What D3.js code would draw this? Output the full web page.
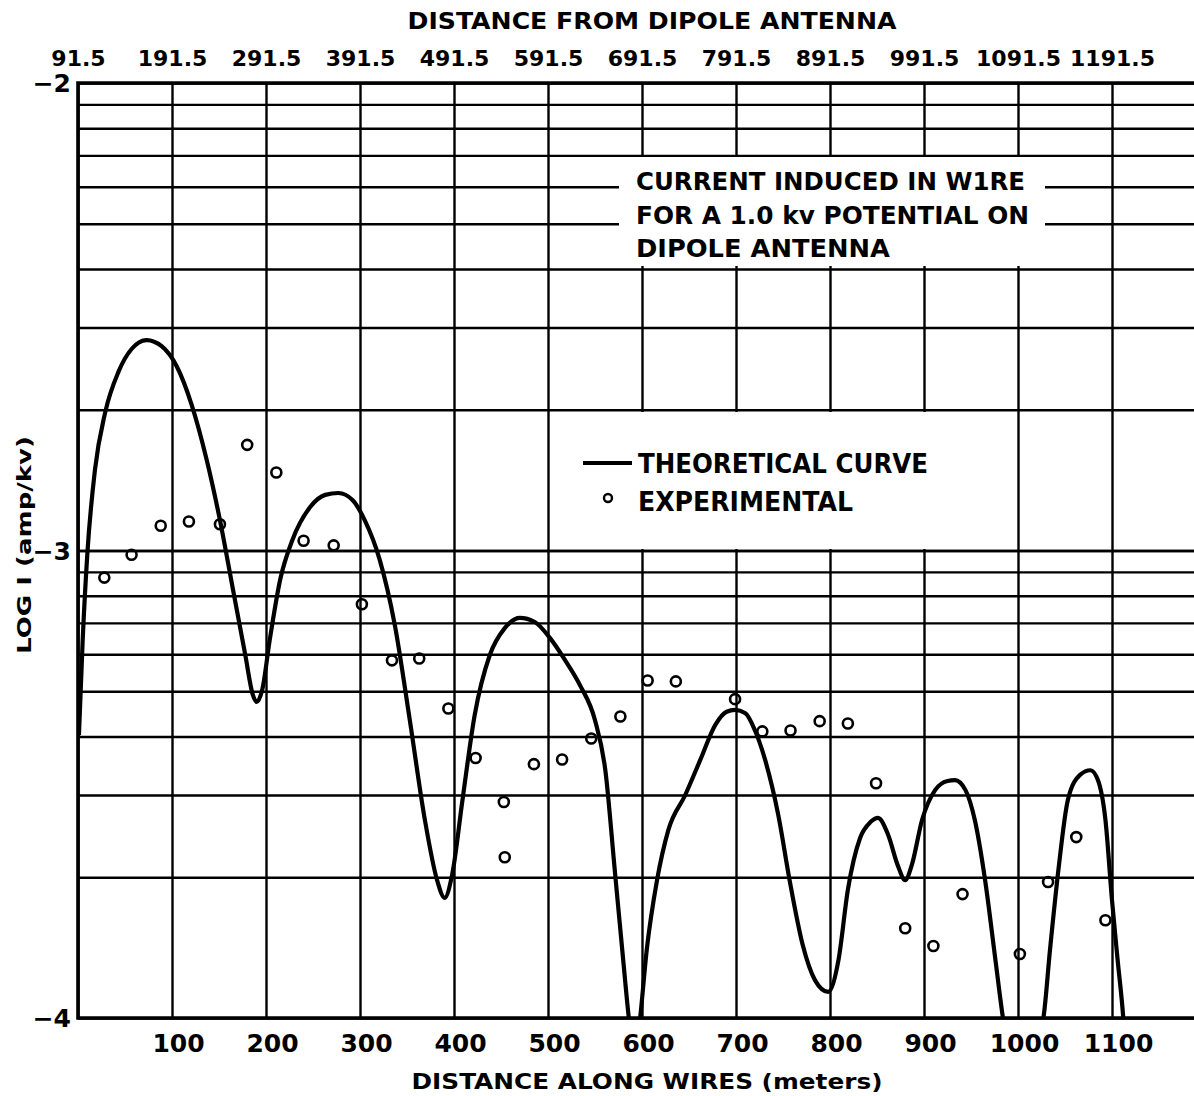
<!DOCTYPE html>
<html>
<head>
<meta charset="utf-8">
<script src="https://cdn.jsdelivr.net/npm/d3@7"></script>
<style>
  body { margin: 0; background: #fff; }
  svg { display: block; font-family: "DejaVu Sans", sans-serif; font-weight: bold; }
</style>
</head>
<body>
<div class="svg-container"></div>
<script>

// theoretical curve: distance along wires (m) and log I (amp/kv)
var theoryDist = [1, 5, 10, 18, 29, 43, 57, 73, 89, 105, 121, 137, 151, 164, 178, 186, 190, 196, 204, 215,
  228, 247, 263, 277, 292, 305, 321, 337, 353, 369, 382, 390, 398, 409, 422, 438, 454, 470, 486, 502,
  518, 534, 550, 561, 571, 580, 586, 592, 598, 605, 616, 628, 646, 662, 678, 690, 699, 710, 720, 731,
  745, 757, 771, 784, 798, 809, 819, 832, 843, 851, 862, 872, 880, 887, 898, 912, 925, 933, 944, 954,
  965, 976, 984, 1002, 1027, 1034, 1043, 1053, 1066, 1077, 1085, 1093, 1100, 1106, 1112, 1115];
var theoryLogI = [-3.395, -3.191, -3.005, -2.828, -2.704, -2.618, -2.569, -2.550, -2.563, -2.606, -2.689, -2.807, -2.935, -3.074, -3.224, -3.309, -3.324, -3.298, -3.191, -3.063,
  -2.978, -2.907, -2.881, -2.877, -2.892, -2.935, -3.020, -3.159, -3.363, -3.576, -3.705, -3.743, -3.694, -3.534, -3.352, -3.224, -3.166, -3.144, -3.153, -3.187,
  -3.234, -3.288, -3.363, -3.470, -3.683, -3.876, -4.000, -4.090, -4.000, -3.855, -3.705, -3.598, -3.523, -3.448, -3.373, -3.345, -3.341, -3.348, -3.384, -3.448,
  -3.566, -3.705, -3.844, -3.919, -3.944, -3.876, -3.726, -3.615, -3.581, -3.572, -3.609, -3.673, -3.705, -3.673, -3.576, -3.512, -3.493, -3.491, -3.512, -3.576,
  -3.705, -3.876, -4.000, -4.154, -4.000, -3.855, -3.683, -3.534, -3.480, -3.470, -3.491, -3.576, -3.748, -3.876, -4.000, -4.090];

// experimental points
var expDist = [28, 57, 88, 118, 151, 180, 211, 240, 272, 302, 334, 363, 394, 423, 453, 454, 485, 515, 546, 577,
  606, 636, 699, 728, 758, 789, 819, 849, 880, 910, 941, 1002, 1032, 1062, 1093];
var expLogI = [-3.058, -3.009, -2.947, -2.938, -2.944, -2.774, -2.833, -2.979, -2.989, -3.115, -3.235, -3.231, -3.338, -3.444, -3.538, -3.656, -3.457, -3.447, -3.402, -3.355,
  -3.278, -3.280, -3.318, -3.387, -3.385, -3.365, -3.370, -3.498, -3.808, -3.846, -3.735, -3.863, -3.709, -3.613, -3.791];

var gridDist = [0, 100, 200, 300, 400, 500, 600, 700, 800, 900, 1000, 1100];
var bottomTicks = [100, 200, 300, 400, 500, 600, 700, 800, 900, 1000, 1100];
var antennaOffset = 91.5;
var decades = [-4, -3];
var gridSteps = [1, 2, 3, 4, 5, 6, 7, 8, 9, 10];
var yLabels = [-2, -3, -4];

// plot box
var plotL = 78, plotR = 1194, plotT = 83, plotB = 1018;

var svg = d3.select(".svg-container").append("svg")
  .attr("width", 1194)
  .attr("height", 1096);

var x = d3.scaleLinear().domain([0, 1100]).range([plotL, 1112]);
var y = d3.scaleLinear().domain([-4, -2]).range([plotB, plotT]);

// log grid values
var gridLog = [];
decades.forEach(function (d) {
  gridSteps.forEach(function (k) { gridLog.push(d + Math.log10(k)); });
});

// vertical grid lines
var vgrid = svg.append("g")
  .attr("transform", "translate(0," + plotB + ")")
  .call(d3.axisBottom(x).tickValues(gridDist).tickSize(-(plotB - plotT)).tickFormat(""));
vgrid.select(".domain").remove();
vgrid.selectAll("line").attr("stroke", "#000").attr("stroke-width", 2.4);

// horizontal grid lines
var hgrid = svg.append("g")
  .attr("transform", "translate(" + plotL + ",0)")
  .call(d3.axisLeft(y).tickValues(gridLog).tickSize(-(plotR - plotL)).tickFormat(""));
hgrid.select(".domain").remove();
hgrid.selectAll("line").attr("stroke", "#000").attr("stroke-width", 2.4);

// white boxes behind the notes
svg.append("rect").attr("x", 619).attr("y", 157).attr("width", 426).attr("height", 109).attr("fill", "#fff");
svg.append("rect").attr("x", 550).attr("y", 412).attr("width", 465).attr("height", 137).attr("fill", "#fff");

// border
svg.append("path")
  .attr("d", "M" + plotR + "," + plotT + "H" + plotL + "V" + plotB + "H" + plotR)
  .attr("fill", "none").attr("stroke", "#000").attr("stroke-width", 3.6);

// clip for the curve
svg.append("clipPath").attr("id", "plotclip")
  .append("rect").attr("x", plotL).attr("y", plotT).attr("width", plotR - plotL).attr("height", plotB - plotT);

var theory = theoryDist.map(function (d, i) { return {dist: d, logI: theoryLogI[i]}; });
var line = d3.line()
  .x(function (d) { return x(d.dist); })
  .y(function (d) { return y(d.logI); })
  .curve(d3.curveMonotoneX);

svg.append("path")
  .datum(theory)
  .attr("clip-path", "url(#plotclip)")
  .attr("d", line)
  .attr("fill", "none")
  .attr("stroke", "#000")
  .attr("stroke-width", 4.2)
  .attr("stroke-linejoin", "round");

var exp = expDist.map(function (d, i) { return {dist: d, logI: expLogI[i]}; });
svg.selectAll(".pt")
  .data(exp)
  .enter().append("circle")
  .attr("class", "pt")
  .attr("cx", function (d) { return x(d.dist); })
  .attr("cy", function (d) { return y(d.logI); })
  .attr("r", 5)
  .attr("fill", "none")
  .attr("stroke", "#000")
  .attr("stroke-width", 2.6);

// top axis (distance from dipole antenna)
var topAxis = svg.append("g")
  .attr("transform", "translate(0," + (plotT - 17) + ")")
  .call(d3.axisTop(x).tickValues(gridDist).tickSize(0).tickPadding(0)
    .tickFormat(function (d) { return (d + antennaOffset).toFixed(1); }));
topAxis.select(".domain").remove();
topAxis.selectAll("text")
  .attr("font-family", "DejaVu Sans").attr("font-weight", "bold").attr("font-size", 22).attr("fill", "#000");

// bottom axis (distance along wires)
var botAxis = svg.append("g")
  .attr("transform", "translate(6," + plotB + ")")
  .call(d3.axisBottom(x).tickValues(bottomTicks).tickSize(0).tickPadding(16).tickFormat(d3.format("d")));
botAxis.select(".domain").remove();
botAxis.selectAll("text")
  .attr("font-family", "DejaVu Sans").attr("font-weight", "bold").attr("font-size", 25).attr("fill", "#000");

// y labels
svg.selectAll(".ylab")
  .data(yLabels)
  .enter().append("text")
  .attr("class", "ylab")
  .attr("x", 71)
  .attr("y", function (d) { return y(d) + 9; })
  .attr("text-anchor", "end")
  .attr("font-size", 25)
  .text(function (d) { return "\u2212" + Math.abs(d); });

// titles
svg.append("text")
  .attr("x", 652).attr("y", 29)
  .attr("text-anchor", "middle").attr("font-size", 23)
  .attr("textLength", 489).attr("lengthAdjust", "spacingAndGlyphs")
  .text("DISTANCE FROM DIPOLE ANTENNA");

svg.append("text")
  .attr("x", 647).attr("y", 1089)
  .attr("text-anchor", "middle").attr("font-size", 22)
  .attr("textLength", 471).attr("lengthAdjust", "spacingAndGlyphs")
  .text("DISTANCE ALONG WIRES (meters)");

svg.append("text")
  .attr("transform", "translate(31,545) rotate(-90)")
  .attr("text-anchor", "middle").attr("font-size", 19)
  .attr("textLength", 218).attr("lengthAdjust", "spacingAndGlyphs")
  .text("LOG I (amp/kv)");

// note
var note = ["CURRENT INDUCED IN W1RE", "FOR A 1.0 kv POTENTIAL ON", "DIPOLE ANTENNA"];
var noteLen = [389, 393, 254];
svg.selectAll(".note")
  .data(note)
  .enter().append("text")
  .attr("class", "note")
  .attr("x", 636)
  .attr("y", function (d, i) { return 190 + i * 33.5; })
  .attr("font-size", 24)
  .attr("textLength", function (d, i) { return noteLen[i]; })
  .attr("lengthAdjust", "spacingAndGlyphs")
  .text(function (d) { return d; });

// legend
svg.append("line")
  .attr("x1", 583).attr("x2", 632).attr("y1", 463).attr("y2", 463)
  .attr("stroke", "#000").attr("stroke-width", 4);
svg.append("circle")
  .attr("cx", 608).attr("cy", 498).attr("r", 4)
  .attr("fill", "none").attr("stroke", "#000").attr("stroke-width", 2.4);
svg.append("text")
  .attr("x", 638).attr("y", 473).attr("font-size", 26)
  .attr("textLength", 290).attr("lengthAdjust", "spacingAndGlyphs")
  .text("THEORETICAL CURVE");
svg.append("text")
  .attr("x", 638).attr("y", 511).attr("font-size", 26)
  .attr("textLength", 215).attr("lengthAdjust", "spacingAndGlyphs")
  .text("EXPERIMENTAL");

</script>
</body>
</html>
